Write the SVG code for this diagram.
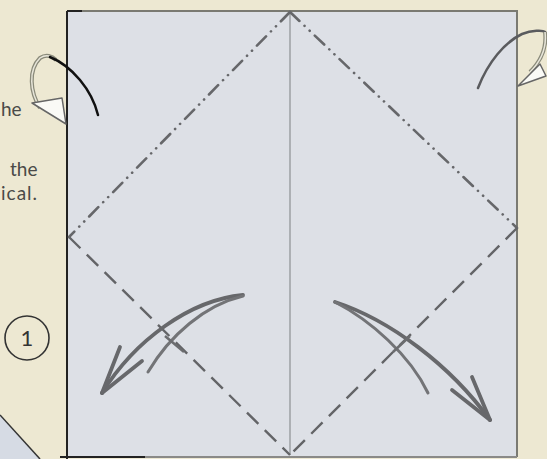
<svg xmlns="http://www.w3.org/2000/svg" width="547" height="459" viewBox="0 0 547 459">
<defs>
<style>
.txt{font-family:"Lato","Open Sans",sans-serif;font-size:19px;fill:#4a4a48}
.mtn{stroke:#66676a;stroke-width:2.6;fill:none;stroke-dasharray:13 7 0.1 7 0.1 7;stroke-linecap:round}
.val{stroke:#636467;stroke-width:2.4;fill:none;stroke-dasharray:16 9}
.arr{stroke:#67686b;stroke-width:3.8;fill:none;stroke-linecap:round}
.arr2{stroke:#737477;stroke-width:3;fill:none;stroke-linecap:round}
</style>
</defs>
<rect width="547" height="459" fill="#ede8d2"/>
<path d="M0,415 L40,459 L0,459 Z" fill="#d6dbe4"/>
<path d="M0,415 L40,459" stroke="#333" stroke-width="1.5"/>
<g id="paper">
<rect x="67" y="11" width="450" height="446" fill="#dde0e6"/>
<path d="M67,11 H517 V457" stroke="#7a7a72" stroke-width="2" fill="none"/>
<path d="M67,11 V459" stroke="#222" stroke-width="2"/>
<path d="M67,11 H82" stroke="#222" stroke-width="2"/>
<path d="M67,457 H517" stroke="#8a8a88" stroke-width="2"/>
<path d="M60,457 H145" stroke="#222" stroke-width="2"/>
<line x1="290" y1="11" x2="290" y2="455" stroke="#8d8f93" stroke-width="1.2"/>
</g>
<g id="folds">
<line class="mtn" x1="290" y1="12" x2="69" y2="237"/>
<line class="mtn" x1="290" y1="12" x2="517" y2="228"/>
<line class="val" x1="69" y1="237" x2="290" y2="455"/>
<line class="val" x1="517" y1="228" x2="290" y2="455"/>
</g>
<g id="text">
<text class="txt" x="1" y="116">he</text>
<text class="txt" x="10" y="176">the</text>
<text class="txt" x="1" y="200" letter-spacing="1">ical.</text>
</g>
<g id="step">
<circle cx="27" cy="338" r="22" fill="none" stroke="#333" stroke-width="1.6"/>
<text x="27" y="346" text-anchor="middle" font-family="Lato,'Open Sans',sans-serif" font-size="22" fill="#333">1</text>
</g>
<g id="loop-left">
<path d="M40,108 C30,92 28,70 40,58 C46,54 52,56 56,60" stroke="#8a8a7a" stroke-width="4" fill="none"/>
<path d="M40,108 C30,92 28,70 40,58 C46,54 52,56 56,60" stroke="#e8e6da" stroke-width="1.5" fill="none"/>
<path d="M50,57 C72,66 92,90 98,115" stroke="#111" stroke-width="2.5" fill="none" stroke-linecap="round"/>
<path d="M32,103 L62,98 L66,124 Z" fill="#fafaf6" stroke="#666" stroke-width="1.5" stroke-linejoin="round"/>
</g>
<g id="loop-right">
<path d="M478,88 C488,62 505,42 522,34 C532,30 543,30 545,32" stroke="#5a5b5e" stroke-width="2.5" fill="none" stroke-linecap="round"/>
<path d="M545,32 C547,48 540,62 530,72" stroke="#8a8a7a" stroke-width="4" fill="none"/>
<path d="M545,32 C547,48 540,62 530,72" stroke="#e8e6da" stroke-width="1.5" fill="none"/>
<path d="M518,86 L540,64 L546,76 Z" fill="#fafaf6" stroke="#666" stroke-width="1.5" stroke-linejoin="round"/>
</g>
<g id="arrows">
<path class="arr" d="M243,295 C190,300 135,340 102,393"/>
<path class="arr2" d="M243,296 C205,305 170,335 148,372"/>
<path class="arr" d="M102,393 L120,347"/>
<path class="arr" d="M102,393 L142,361"/>
<line x1="165" y1="336" x2="184" y2="352" stroke="#6b6c6f" stroke-width="2.5"/>
<path class="arr" d="M335,302 C390,320 450,365 490,420"/>
<path class="arr2" d="M335,302 C370,320 410,355 428,393"/>
<path class="arr" d="M490,420 L472,377"/>
<path class="arr" d="M490,420 L452,390"/>
<line x1="393" y1="352" x2="410" y2="336" stroke="#6b6c6f" stroke-width="2.5"/>
</g>
</svg>
